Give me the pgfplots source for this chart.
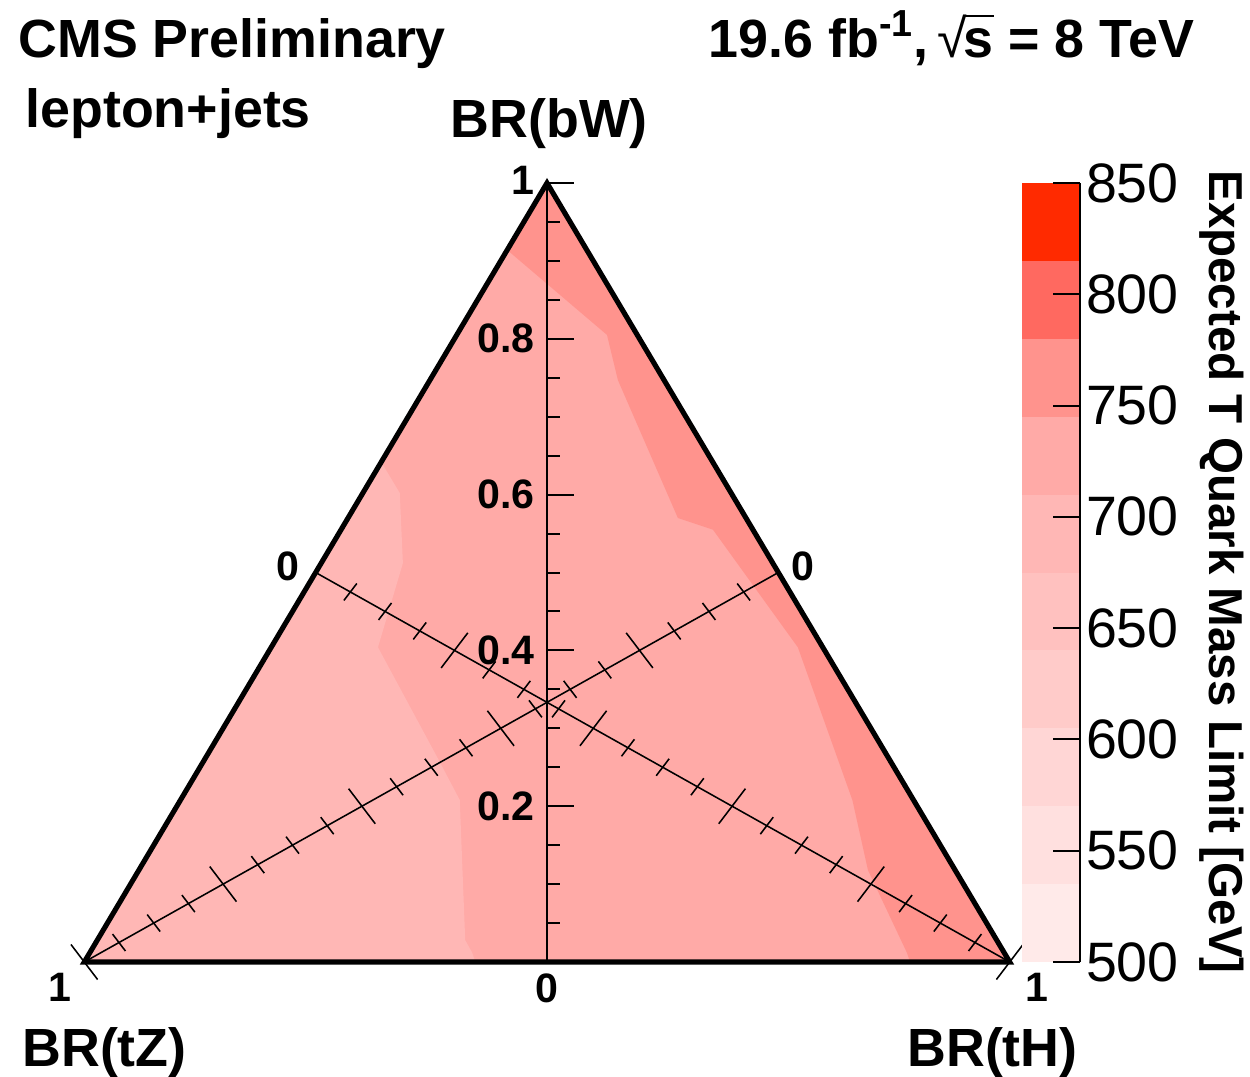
\documentclass[border=0pt]{standalone}
\usepackage{fontspec}
\setmainfont{Liberation Sans}
\usepackage{pgfplots}
\pgfplotsset{compat=1.18}
\definecolor{c1}{RGB}{255,234,233}
\definecolor{c2}{RGB}{255,224,223}
\definecolor{c3}{RGB}{255,214,213}
\definecolor{c4}{RGB}{255,203,201}
\definecolor{c5}{RGB}{255,193,191}
\definecolor{c6}{RGB}{255,183,181}
\definecolor{c7}{RGB}{255,170,167}
\definecolor{c8}{RGB}{255,147,141}
\definecolor{c9}{RGB}{255,105,96}
\definecolor{c10}{RGB}{255,42,0}
\newcommand{\titlefont}{\fontsize{24.2pt}{28pt}\selectfont\bfseries}
\newcommand{\ticklab}{\fontsize{18.5pt}{22pt}\selectfont\bfseries}
\newcommand{\cbfont}{\fontsize{25pt}{29pt}\selectfont}
\newcommand{\cbtitle}{\fontsize{21.4pt}{25pt}\selectfont\bfseries}
\begin{document}
\begin{tikzpicture}
\path[use as bounding box] (0,0) rectangle (562.5pt,484.65pt);
\begin{axis}[at={(0,0)},anchor=south west,width=562.5pt,height=484.65pt,scale only axis,
  xmin=-0.7022,xmax=0.9025,ymin=-0.1476,ymax=1.2349,hide axis,clip=false]
% regions (expected limit bands)
\addplot[fill=c7,draw=none] coordinates {(-0.594,0) (0.594,0) (0,1)} -- cycle;
\addplot[fill=c6,draw=none] coordinates {
 (-0.213,0.642) (-0.189,0.602) (-0.185,0.512) (-0.217,0.404) (-0.141,0.263)
 (-0.112,0.208) (-0.105,0.028) (-0.096,0.012) (-0.092,0) (-0.594,0)} -- cycle;
\addplot[fill=c8,draw=none] coordinates {
 (-0.0511,0.914) (0.077,0.805) (0.091,0.747) (0.168,0.570) (0.213,0.555)
 (0.322,0.404) (0.392,0.208) (0.412,0.118) (0.462,0.012) (0.466,0)
 (0.594,0) (0,1)} -- cycle;
% medians
\draw[line width=0.7pt] (axis cs:-0.594,0) -- (axis cs:0.297,0.5);
\draw[line width=0.7pt] (axis cs:-0.297,0.5) -- (axis cs:0.594,0);
\pgfplotsinvokeforeach{0.2,0.4,0.6,0.8,1}{
 \draw[line width=0.7pt] (axis cs:{0.297-0.891*#1+0.0171},{0.5-0.5*#1-0.0225}) -- (axis cs:{0.297-0.891*#1-0.0171},{0.5-0.5*#1+0.0225});
 \draw[line width=0.7pt] (axis cs:{-0.297+0.891*#1+0.0171},{0.5-0.5*#1+0.0225}) -- (axis cs:{-0.297+0.891*#1-0.0171},{0.5-0.5*#1-0.0225});
}
\pgfplotsinvokeforeach{0.05,0.1,0.15,0.25,0.3,0.35,0.45,0.5,0.55,0.65,0.7,0.75,0.85,0.9,0.95}{
 \draw[line width=0.7pt] (axis cs:{0.297-0.891*#1+0.0083},{0.5-0.5*#1-0.0109}) -- (axis cs:{0.297-0.891*#1-0.0083},{0.5-0.5*#1+0.0109});
 \draw[line width=0.7pt] (axis cs:{-0.297+0.891*#1+0.0083},{0.5-0.5*#1+0.0109}) -- (axis cs:{-0.297+0.891*#1-0.0083},{0.5-0.5*#1-0.0109});
}
% vertical BR(bW) axis
\draw[line width=0.9pt] (axis cs:0,0) -- (axis cs:0,1);
\pgfplotsinvokeforeach{0,0.2,0.4,0.6,0.8,1}{
 \draw[line width=0.9pt] (axis cs:0,#1) -- (axis cs:0.0347,#1);
}
\pgfplotsinvokeforeach{0.05,0.1,0.15,0.25,0.3,0.35,0.45,0.5,0.55,0.65,0.7,0.75,0.85,0.9,0.95}{
 \draw[line width=0.9pt] (axis cs:0,#1) -- (axis cs:0.0167,#1);
}
% triangle frame
\draw[line width=2.3pt,line join=miter] (axis cs:-0.594,0) -- (axis cs:0.594,0) -- (axis cs:0,1) -- cycle;
% tick labels
\node[anchor=east,font=\ticklab,inner sep=0pt] at (axis cs:-0.0154,0.8) {0.8};
\node[anchor=east,font=\ticklab,inner sep=0pt] at (axis cs:-0.0154,0.6) {0.6};
\node[anchor=east,font=\ticklab,inner sep=0pt] at (axis cs:-0.0154,0.4) {0.4};
\node[anchor=east,font=\ticklab,inner sep=0pt] at (axis cs:-0.0154,0.2) {0.2};
\node[font=\ticklab,inner sep=0pt] at (axis cs:-0.0308,1.0039) {1};
\node[font=\ticklab,inner sep=0pt] at (axis cs:0,-0.0334) {0};
\node[font=\ticklab,inner sep=0pt] at (axis cs:-0.3325,0.5083) {0};
\node[font=\ticklab,inner sep=0pt] at (axis cs:0.3286,0.5083) {0};
\node[font=\ticklab,inner sep=0pt] at (axis cs:-0.6252,-0.0321) {1};
\node[font=\ticklab,inner sep=0pt] at (axis cs:0.629,-0.0321) {1};
% titles
\node[anchor=base west,font=\titlefont,inner sep=0pt] at (axis cs:-0.679,1.1617) {CMS Preliminary};
\node[anchor=base east,font=\titlefont,inner sep=0pt] at (axis cs:0.8318,1.1617) {19.6 fb\textsuperscript{-1},\,{\mdseries √}\kern-0.06em\rlap{\rule[0.74em]{0.56em}{0.045em}}s = 8 TeV};
\node[anchor=base west,font=\titlefont,inner sep=0pt] at (axis cs:-0.6701,1.0706) {lepton+jets};
\node[anchor=base,font=\titlefont,inner sep=0pt] at (axis cs:0.003,1.0578) {BR(bW)};
\node[anchor=base west,font=\titlefont,inner sep=0pt] at (axis cs:-0.674,-0.1335) {BR(tZ)};
\node[anchor=base west,font=\titlefont,inner sep=0pt] at (axis cs:0.4621,-0.1335) {BR(tH)};
\node[rotate=-90,font=\cbtitle,inner sep=0pt] at (axis cs:0.8665,0.5006) {Expected T Quark Mass Limit [GeV]};
\end{axis}
% colour bar
\begin{axis}[at={(459.9pt,51.75pt)},anchor=south west,width=26.1pt,height=350.55pt,scale only axis,
  xmin=0,xmax=1,ymin=500,ymax=850,axis x line=none,axis y line*=right,
  axis line style={-,line width=0.9pt},axis on top,
  ytick={500,550,600,650,700,750,800,850},minor tick num=0,tick align=inside,
  major tick length=12.2pt,tick style={line width=0.9pt,black},
  yticklabel style={font=\cbfont,/pgf/number format/assume math mode=true,anchor=west,inner xsep=2.5pt},
  clip=false]
\addplot[fill=c1,draw=none] coordinates {(0,500) (1,500) (1,535) (0,535)} -- cycle;
\addplot[fill=c2,draw=none] coordinates {(0,535) (1,535) (1,570) (0,570)} -- cycle;
\addplot[fill=c3,draw=none] coordinates {(0,570) (1,570) (1,605) (0,605)} -- cycle;
\addplot[fill=c4,draw=none] coordinates {(0,605) (1,605) (1,640) (0,640)} -- cycle;
\addplot[fill=c5,draw=none] coordinates {(0,640) (1,640) (1,675) (0,675)} -- cycle;
\addplot[fill=c6,draw=none] coordinates {(0,675) (1,675) (1,710) (0,710)} -- cycle;
\addplot[fill=c7,draw=none] coordinates {(0,710) (1,710) (1,745) (0,745)} -- cycle;
\addplot[fill=c8,draw=none] coordinates {(0,745) (1,745) (1,780) (0,780)} -- cycle;
\addplot[fill=c9,draw=none] coordinates {(0,780) (1,780) (1,815) (0,815)} -- cycle;
\addplot[fill=c10,draw=none] coordinates {(0,815) (1,815) (1,850) (0,850)} -- cycle;
\end{axis}
\end{tikzpicture}
\end{document}
